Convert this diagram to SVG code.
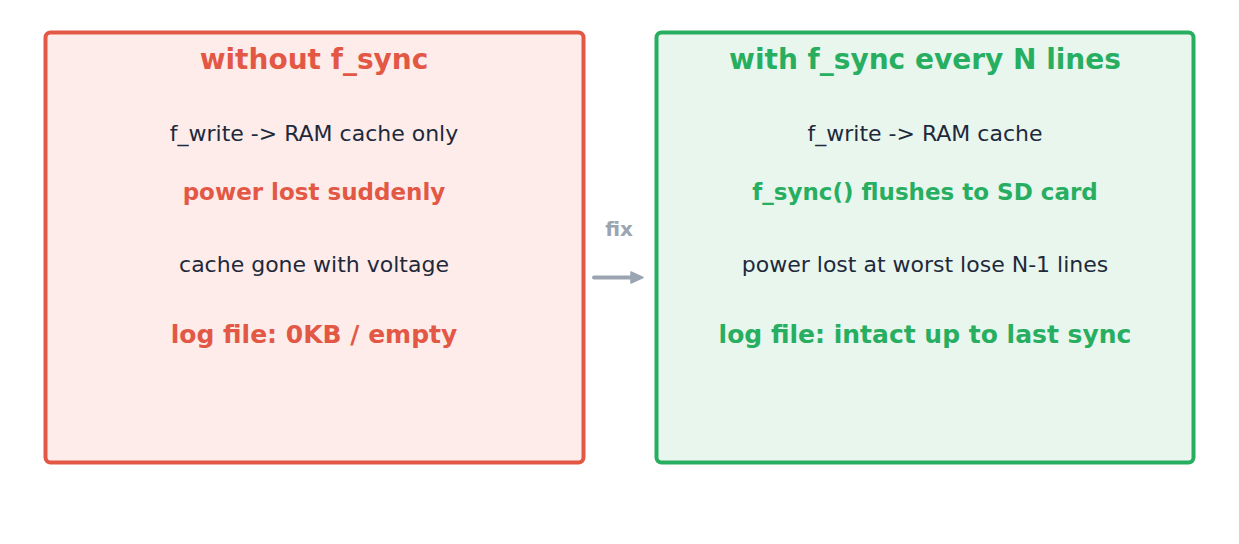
<svg xmlns="http://www.w3.org/2000/svg" width="1239" height="544" viewBox="0 0 1239 544">
<defs>
<style>
text{font-family:"DejaVu Sans",Verdana,sans-serif;text-anchor:middle}
.t{font-size:28px;font-weight:bold}
.n{font-size:22px;fill:#1e293b}
.b{font-size:23px;font-weight:bold}
.l{font-size:25px;font-weight:bold}
.red{fill:#e35845}
.grn{fill:#27ae60}
</style>
<marker id="ah" markerWidth="16" markerHeight="14" refX="2" refY="7" orient="auto" markerUnits="userSpaceOnUse">
<path d="M1,1.5 L13,7 L1,12.5 Z" fill="#9aa5b1" stroke="#9aa5b1" stroke-width="1.5" stroke-linejoin="round"/>
</marker>
</defs>
<rect width="1239" height="544" fill="#ffffff"/>
<g id="without">
<rect x="45.5" y="32.5" width="538" height="430" rx="5" fill="#fdecea" stroke="#e35845" stroke-width="4"/>
<text class="t red" x="314" y="69">without f_sync</text>
<text class="n" x="314" y="141">f_write -&gt; RAM cache only</text>
<text class="b red" x="314" y="200">power lost suddenly</text>
<text class="n" x="314" y="272">cache gone with voltage</text>
<text class="l red" x="314" y="343">log file: 0KB / empty</text>
</g>
<g id="with">
<rect x="656.5" y="32.5" width="537" height="430" rx="5" fill="#e8f6ee" stroke="#27ae60" stroke-width="4"/>
<text class="t grn" x="925" y="69">with f_sync every N lines</text>
<text class="n" x="925" y="141">f_write -&gt; RAM cache</text>
<text class="b grn" x="925" y="200">f_sync() flushes to SD card</text>
<text class="n" x="925" y="272">power lost at worst lose N-1 lines</text>
<text class="l grn" x="925" y="343">log file: intact up to last sync</text>
</g>
<g id="connectors">
<line x1="594" y1="277.5" x2="632" y2="277.5" stroke="#9aa5b1" stroke-width="4" stroke-linecap="round" marker-end="url(#ah)"/>
<text x="619" y="236" style="font-size:20px;font-weight:bold;fill:#9aa5b1">fix</text>
</g>
</svg>
